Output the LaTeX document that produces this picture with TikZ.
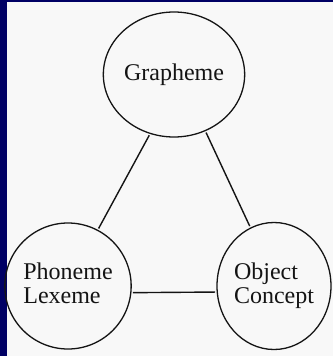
\documentclass[tikz,border=0pt]{standalone}
\usepackage{fontspec}
\setmainfont{Liberation Serif}
\usetikzlibrary{shapes.geometric}
\definecolor{navy}{RGB}{0,0,100}
\definecolor{paper}{RGB}{248,248,248}
\definecolor{ink}{RGB}{20,20,20}
\begin{document}
\begin{tikzpicture}[x=1pt,y=-1pt,
  bubble/.style={draw=ink, ellipse, line width=1.3pt, inner sep=0pt, align=left,
    text=ink, font=\fontsize{24}{26}\selectfont},
  link/.style={draw=ink, line width=1.4pt, shorten <=1.5pt, shorten >=1.5pt}]
\fill[navy] (0,0) rectangle (333,356);
\fill[paper] (7,2) rectangle (333,356);
\useasboundingbox (0,0) rectangle (333,356);
\node[bubble, minimum width=113pt, minimum height=125pt] (G) at (174,74.5) {\raisebox{-2pt}{Grapheme}};
\node[bubble, minimum width=112pt, minimum height=126pt] (P) at (68,286)
  {\raisebox{5pt}{\begin{tabular}{@{}l@{}}Phoneme\\[-2pt]Lexeme\end{tabular}}};
\node[bubble, minimum width=114pt, minimum height=127pt] (O) at (274,286)
  {\begin{tabular}{@{}l@{}}Object\\[-2pt]Concept\end{tabular}};
\draw[link] (G.248) -- (P.62);
\draw[link] (G.299) -- (O.112);
\draw[link] (P.-6) -- (O.186);
\end{tikzpicture}
\end{document}
